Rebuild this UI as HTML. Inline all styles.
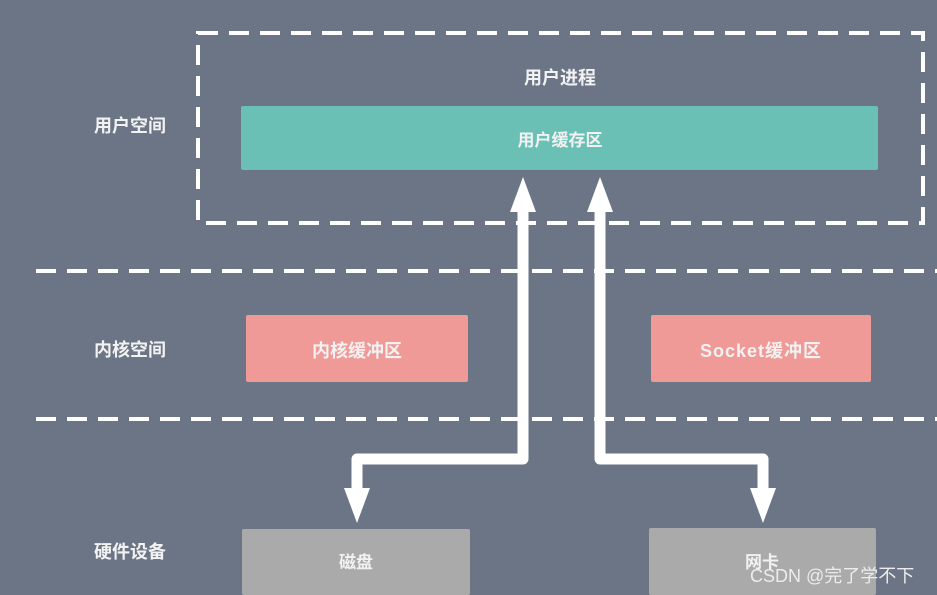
<!DOCTYPE html>
<html><head><meta charset="utf-8"><style>
html,body{margin:0;padding:0;background:#6b7585;}
svg{display:block}
text{font-family:"Liberation Sans","Noto Sans CJK SC",sans-serif;fill:#f2f2f2;font-weight:bold;}
</style></head><body>
<svg width="937" height="595" viewBox="0 0 937 595" xmlns="http://www.w3.org/2000/svg">
<rect width="937" height="595" fill="#6b7585"/>
<rect x="198" y="33" width="725" height="190" fill="none" stroke="#fff" stroke-width="4" stroke-dasharray="20,11"/>
<line x1="36" y1="271" x2="937" y2="271" stroke="#fff" stroke-width="4" stroke-dasharray="20,11"/>
<line x1="36" y1="419" x2="937" y2="419" stroke="#fff" stroke-width="4" stroke-dasharray="20,11"/>
<text x="560" y="84" font-size="18" text-anchor="middle">用户进程</text>
<rect x="241" y="106" width="637" height="64" rx="2" fill="#6bc0b5"/>
<text x="560" y="146" font-size="17" text-anchor="middle">用户缓存区</text>
<text x="130" y="132" font-size="18" text-anchor="middle">用户空间</text>
<text x="130" y="356" font-size="18" text-anchor="middle">内核空间</text>
<text x="130" y="558" font-size="18" text-anchor="middle">硬件设备</text>
<rect x="246" y="315" width="222" height="67" rx="2" fill="#f09a98"/>
<text x="357" y="357" font-size="18" text-anchor="middle">内核缓冲区</text>
<rect x="651" y="315" width="220" height="67" rx="2" fill="#f09a98"/>
<text x="761" y="357" font-size="18" text-anchor="middle" letter-spacing="1">Socket缓冲区</text>
<rect x="242" y="529" width="228" height="66" rx="2" fill="#aaaaaa"/>
<text x="356" y="568" font-size="17" text-anchor="middle">磁盘</text>
<rect x="649" y="528" width="227" height="67" rx="2" fill="#aaaaaa"/>
<text x="762" y="568" font-size="17" text-anchor="middle">网卡</text>
<g fill="none" stroke="#fff" stroke-width="11" stroke-linejoin="round">
<polyline points="523,208 523,459 357,459 357,492"/>
<polyline points="600,208 600,459 763,459 763,492"/>
</g>
<g fill="#fff">
<polygon points="523,177 510,212 536,212"/>
<polygon points="600,177 587,212 613,212"/>
<polygon points="357,523 344,488 370,488"/>
<polygon points="763,523 750,488 776,488"/>
</g>
<text x="750" y="582" font-size="18" style="fill:#ececec;font-weight:normal">CSDN @完了学不下</text>
</svg>
</body></html>
